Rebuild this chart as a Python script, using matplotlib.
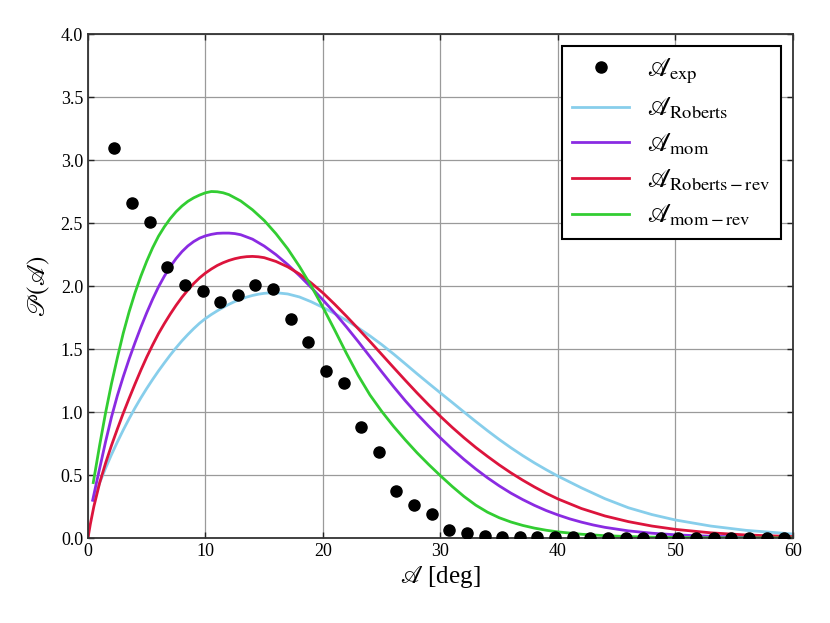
import matplotlib
matplotlib.use("Agg")
import matplotlib.pyplot as plt

plt.rcParams['font.family'] = 'serif'
plt.rcParams['font.serif'] = ['Liberation Serif', 'DejaVu Serif']
plt.rcParams['mathtext.fontset'] = 'stix'

# experimental histogram points
exp_x = [2.25, 3.75, 5.25, 6.75, 8.25, 9.75, 11.25, 12.75, 14.25, 15.75,
         17.25, 18.75, 20.25, 21.75, 23.25, 24.75, 26.25, 27.75, 29.25, 30.75,
         32.25, 33.75, 35.25, 36.75, 38.25, 39.75, 41.25, 42.75, 44.25, 45.75,
         47.25, 48.75, 50.25, 51.75, 53.25, 54.75, 56.25, 57.75, 59.25]
exp_y = [3.098, 2.66, 2.51, 2.148, 2.005, 1.96, 1.875, 1.932, 2.012, 1.98,
         1.735, 1.558, 1.328, 1.228, 0.884, 0.68, 0.376, 0.262, 0.188, 0.063,
         0.037, 0.017, 0.010, 0.008, 0.007, 0.006, 0.005, 0.004, 0.004, 0.003,
         0.003, 0.003, 0.002, 0.002, 0.002, 0.002, 0.002, 0.002, 0.002]

# Roberts
rob_x = [0.45, 1.0, 1.5, 2.0, 2.5, 3.0, 3.5, 4.0, 4.5, 5.0,
         5.5, 6.0, 6.5, 7.0, 7.5, 8.0, 8.5, 9.0, 9.5, 10.0,
         10.5, 11.0, 11.5, 12.0, 12.5, 13.0, 13.5, 14.0, 14.5, 15.0,
         15.5, 16.0, 17.0, 18.0, 19.0, 20.0, 21.0, 22.0, 23.0, 24.0,
         25.0, 26.0, 27.0, 28.0, 29.0, 30.0, 31.0, 32.0, 33.0, 34.0,
         35.0, 36.0, 37.0, 38.0, 39.0, 40.0, 42.0, 44.0, 46.0, 48.0,
         50.0, 53.0, 56.0, 60.0]
rob_y = [0.30, 0.44, 0.555, 0.662, 0.762, 0.857, 0.947, 1.032, 1.112, 1.187,
         1.258, 1.326, 1.39, 1.452, 1.51, 1.565, 1.615, 1.662, 1.705, 1.742,
         1.774, 1.803, 1.83, 1.855, 1.877, 1.896, 1.912, 1.925, 1.935, 1.942,
         1.946, 1.947, 1.937, 1.913, 1.875, 1.83, 1.781, 1.727, 1.668, 1.604,
         1.535, 1.461, 1.383, 1.304, 1.227, 1.151, 1.076, 1.0, 0.925, 0.852,
         0.782, 0.716, 0.654, 0.596, 0.542, 0.491, 0.398, 0.312, 0.240, 0.186,
         0.143, 0.095, 0.061, 0.032]

# mom
mom_x = [0.4, 0.7, 1.0, 1.5, 2.0, 2.5, 3.0, 3.5, 4.0, 4.5,
         5.0, 5.5, 6.0, 6.5, 7.0, 7.5, 8.0, 8.5, 9.0, 9.5,
         10.0, 10.5, 11.0, 11.5, 12.0, 12.5, 13.0, 14.0, 15.0, 16.0,
         17.0, 18.0, 19.0, 20.0, 21.0, 22.0, 23.0, 24.0, 25.0, 26.0,
         27.0, 28.0, 29.0, 30.0, 31.0, 32.0, 33.0, 34.0, 35.0, 36.0,
         37.0, 38.0, 39.0, 40.0, 41.0, 42.0, 43.0, 44.0, 46.0, 48.0,
         50.0, 52.0, 55.0, 58.0, 60.0]
mom_y = [0.30, 0.43, 0.555, 0.765, 0.96, 1.13, 1.28, 1.42, 1.55, 1.673,
         1.788, 1.895, 1.993, 2.078, 2.153, 2.218, 2.273, 2.318, 2.353, 2.38,
         2.398, 2.41, 2.418, 2.42, 2.42, 2.416, 2.407, 2.372, 2.317, 2.249,
         2.170, 2.082, 1.988, 1.889, 1.786, 1.675, 1.559, 1.439, 1.319, 1.202,
         1.090, 0.985, 0.887, 0.794, 0.706, 0.624, 0.548, 0.478, 0.414, 0.356,
         0.305, 0.259, 0.218, 0.183, 0.152, 0.126, 0.1035, 0.0847, 0.0568, 0.0381,
         0.0255, 0.0171, 0.0094, 0.0052, 0.0035]

# Roberts - rev
robrev_x = [0.0, 0.2, 0.5, 1.0, 1.5, 2.0, 2.5, 3.0, 3.5, 4.0,
            4.5, 5.0, 5.5, 6.0, 6.5, 7.0, 7.5, 8.0, 8.5, 9.0,
            9.5, 10.0, 10.5, 11.0, 11.5, 12.0, 12.5, 13.0, 13.5, 14.0,
            14.5, 15.0, 16.0, 17.0, 18.0, 19.0, 20.0, 21.0, 22.0, 23.0,
            24.0, 25.0, 26.0, 27.0, 28.0, 29.0, 30.0, 31.0, 32.0, 33.0,
            34.0, 35.0, 36.0, 37.0, 38.0, 39.0, 40.0, 42.0, 44.0, 46.0,
            48.0, 50.0, 53.0, 56.0, 60.0]
robrev_y = [0.0, 0.11, 0.25, 0.44, 0.595, 0.735, 0.865, 0.99, 1.108, 1.222,
            1.332, 1.436, 1.532, 1.622, 1.702, 1.777, 1.847, 1.911, 1.968, 2.02,
            2.065, 2.103, 2.135, 2.163, 2.185, 2.203, 2.217, 2.227, 2.233, 2.235,
            2.232, 2.225, 2.195, 2.152, 2.095, 2.024, 1.945, 1.855, 1.76, 1.661,
            1.56, 1.457, 1.354, 1.252, 1.152, 1.056, 0.965, 0.878, 0.796, 0.719,
            0.648, 0.58, 0.517, 0.459, 0.405, 0.355, 0.31, 0.234, 0.175, 0.130,
            0.095, 0.0686, 0.0412, 0.0242, 0.0115]

# mom - rev
momrev_x = [0.45, 1.0, 1.5, 2.0, 2.5, 3.0, 3.5, 4.0, 4.5, 5.0,
            5.5, 6.0, 6.5, 7.0, 7.5, 8.0, 8.5, 9.0, 9.5, 10.0,
            10.5, 11.0, 11.5, 12.0, 13.0, 14.0, 15.0, 16.0, 17.0, 18.0,
            19.0, 20.0, 21.0, 22.0, 23.0, 24.0, 25.0, 26.0, 27.0, 28.0,
            29.0, 30.0, 31.0, 32.0, 33.0, 34.0, 35.0, 36.0, 37.0, 38.0,
            39.0, 40.0, 42.0, 44.0, 46.0, 48.0, 50.0, 53.0, 56.0, 60.0]
momrev_y = [0.44, 0.74, 0.995, 1.225, 1.43, 1.625, 1.795, 1.945, 2.078, 2.197,
            2.303, 2.395, 2.47, 2.535, 2.59, 2.635, 2.672, 2.70, 2.722, 2.74,
            2.75, 2.748, 2.74, 2.725, 2.675, 2.605, 2.52, 2.415, 2.295, 2.155,
            2.0, 1.83, 1.65, 1.465, 1.29, 1.135, 1.005, 0.887, 0.779, 0.677,
            0.583, 0.494, 0.409, 0.330, 0.261, 0.205, 0.161, 0.127, 0.100, 0.0785,
            0.0618, 0.0486, 0.030, 0.0186, 0.0115, 0.0071, 0.0044, 0.0021, 0.001, 0.0004]

xticks = [0, 10, 20, 30, 40, 50, 60]
yticks = [0.0, 0.5, 1.0, 1.5, 2.0, 2.5, 3.0, 3.5, 4.0]

fig = plt.figure(figsize=(8.3, 6.23), dpi=100)
ax = fig.add_axes([0.106, 0.1364, 0.8494, 0.809])

lw = 2.0
ax.plot(exp_x, exp_y, 'o', color='black', markersize=8, zorder=5,
        label=r'$\mathscr{A}_{\mathrm{exp}}$')
ax.plot(rob_x, rob_y, color='#87CEEB', lw=lw, label=r'$\mathscr{A}_{\mathrm{Roberts}}$')
ax.plot(mom_x, mom_y, color='#8A2BE2', lw=lw, label=r'$\mathscr{A}_{\mathrm{mom}}$')
ax.plot(robrev_x, robrev_y, color='#DC143C', lw=lw,
        label=r'$\mathscr{A}_{\mathrm{Roberts-rev}}$')
ax.plot(momrev_x, momrev_y, color='#32CD32', lw=lw,
        label=r'$\mathscr{A}_{\mathrm{mom-rev}}$')

ax.set_xlim(0, 60)
ax.set_ylim(0, 4.0)
ax.set_xticks(xticks)
ax.set_yticks(yticks)
ax.set_yticklabels([f'{v:.1f}' for v in yticks])
ax.tick_params(direction='in', top=True, right=True, labelsize=13, length=4,
               width=1, colors='#222222', labelcolor='black')
ax.grid(True, color='#9a9a9a', lw=0.9)
for s in ax.spines.values():
    s.set_color('#333333')
    s.set_linewidth(1.3)

ax.set_xlabel(r'$\mathscr{A}$ [deg]', fontsize=18, labelpad=3)
ax.set_ylabel(r'$\mathscr{P}(\mathscr{A})$', fontsize=18, labelpad=6)

leg = ax.legend(loc='upper right', fontsize=19, numpoints=1, handlelength=2.15,
                handletextpad=0.7, labelspacing=0.38, borderaxespad=0.45,
                fancybox=False, framealpha=1, edgecolor='black', borderpad=0.4)
leg.get_frame().set_linewidth(1.5)

fig.savefig('out.png', dpi=100)
